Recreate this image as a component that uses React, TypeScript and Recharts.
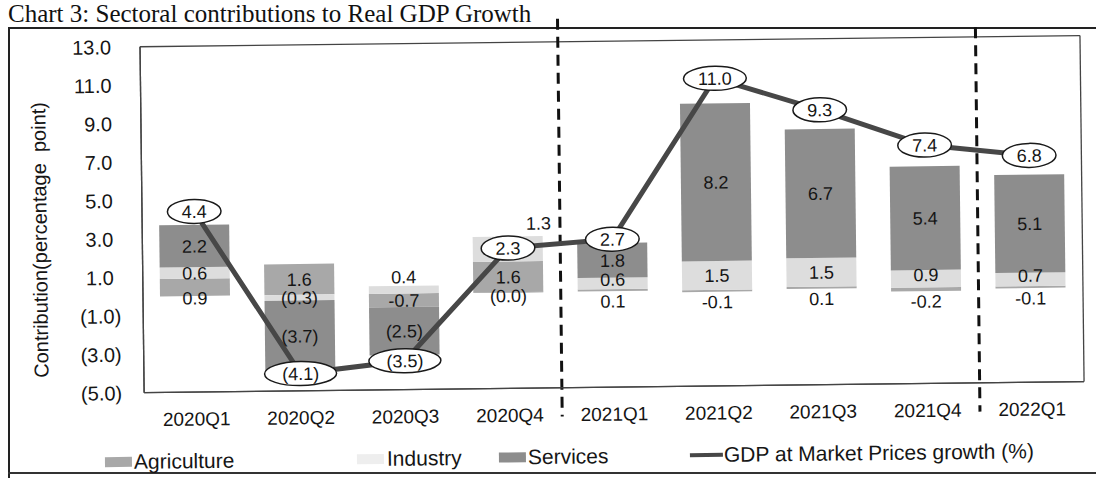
import React from 'react';
import { ComposedChart, Bar, Line, XAxis, YAxis, LabelList, ReferenceLine, CartesianGrid } from 'recharts';

const quarters = ['2020Q1', '2020Q2', '2020Q3', '2020Q4', '2021Q1', '2021Q2', '2021Q3', '2021Q4', '2022Q1'];
const agriculture = [0.9, 1.6, -0.7, 1.6, 0.1, -0.1, 0.1, -0.2, -0.1];
const industry = [0.6, -0.3, 0.4, 1.3, 0.6, 1.5, 1.5, 0.9, 0.7];
const services = [2.2, -3.7, -2.5, -0.02, 1.8, 8.2, 6.7, 5.4, 5.1];
const gdpGrowth = [4.4, -4.1, -3.5, 2.3, 2.7, 11.0, 9.3, 7.4, 6.8];
const yTicks = [13, 11, 9, 7, 5, 3, 1, -1, -3, -5];

const data = quarters.map((q, i) => ({
  q,
  agriculture: agriculture[i],
  industry: industry[i],
  services: services[i],
  gdp: gdpGrowth[i],
}));

const FONT = '"Liberation Sans", Arial, sans-serif';
const AGRI = '#a8a8a8';
const IND = '#dddddd';
const SERV = '#8d8d8d';
const GDP_LINE = '#474747';

// excel style: negatives in brackets (agriculture labels used a plain minus)
const paren = (v: number) => (v < 0 ? `(${Math.abs(v).toFixed(1)})` : v.toFixed(1));
const minus = (v: number) => v.toFixed(1);

const rectOf = (props: any) => {
  const vb = props.viewBox && props.viewBox.width !== undefined ? props.viewBox : props;
  return { x: Number(vb.x), y: Number(vb.y), width: Number(vb.width), height: Number(vb.height) };
};

const barLabel = (series: 'agriculture' | 'industry' | 'services') => (props: any) => {
  const { index } = props;
  const { x, y, width, height } = rectOf(props);
  const value = series === 'agriculture' ? agriculture[index] : series === 'industry' ? industry[index] : services[index];
  const top = Math.min(y, y + height);
  const bot = Math.max(y, y + height);
  const h = bot - top;
  let cx = x + width / 2;
  let cy = (top + bot) / 2;
  if (series === 'agriculture') {
    if (h < 12) cy = bot + 10;
    else if (h < 20 && value > 0) cy = bot + 2;
  }
  if (series === 'services' && h < 4) cy = bot + 3;
  if (series === 'industry' && value > 0) {
    if (h < 9) cy = top - 9;
    else if (Math.abs(agriculture[index]) < 0.5 && h < 20) cy -= 4;
    // pushed out of the way when it sits under the GDP bubble
    const base = agriculture[index] > 0 ? agriculture[index] : 0;
    if (Math.abs(base + value / 2 - gdpGrowth[index]) < 0.6) {
      cx = x + width - 4;
      cy = top - 13;
    }
  }
  return (
    <text x={cx} y={cy} dy="0.36em" textAnchor="middle" fontSize={18} fontFamily={FONT} fill="#151515">
      {series === 'agriculture' ? minus(value) : paren(value)}
    </text>
  );
};

const gdpLabel = (props: any) => {
  const vb = props.viewBox || props;
  const x = Number(vb.x ?? props.x);
  const y = Number(vb.y ?? props.y);
  const text = paren(gdpGrowth[props.index]);
  const rx = text.length * 4.6 + 13;
  return (
    <g>
      <ellipse cx={x} cy={y} rx={rx} ry={12} fill="#fff" stroke="#1a1a1a" strokeWidth={1.5} />
      <text x={x} y={y} dy="0.36em" textAnchor="middle" fontSize={18} fontFamily={FONT} fill="#151515">
        {text}
      </text>
    </g>
  );
};

const YTick = (props: any) => {
  const { x, y, payload } = props;
  const v = Number(payload.value);
  return (
    <text x={x} y={y} dx={v >= 0 ? -7 : 0} dy="0.36em" textAnchor="end" fontSize={20} fontFamily={FONT} fill="#151515">
      {paren(v)}
    </text>
  );
};

const legendItems = [
  { name: 'Agriculture', color: AGRI, left: 103, kind: 'box' },
  { name: 'Industry', color: '#eeeeee', left: 355, kind: 'box' },
  { name: 'Services', color: SERV, left: 497, kind: 'box' },
  { name: 'GDP at Market Prices growth (%)', color: GDP_LINE, left: 688, kind: 'line' },
];

const frameLine = { stroke: '#444', strokeWidth: 1.3 };
const breakLine = { stroke: '#111', strokeWidth: 3, strokeDasharray: '11 7' };

export default function App() {
  return (
    <div style={{ position: 'absolute', left: 0, top: 0, width: 1096, height: 478, background: '#fff', overflow: 'hidden' }}>
      {/* page box around the figure */}
      <div style={{ position: 'absolute', left: 8, top: 27, width: 2, height: 451, background: '#222' }} />
      <div style={{ position: 'absolute', left: 8, top: 27, width: 1088, height: 2, background: '#222' }} />
      <div style={{ position: 'absolute', left: 8, top: 472, width: 1088, height: 1.5, background: '#333' }} />

      <div style={{ position: 'absolute', left: 8, top: 0, fontFamily: '"Liberation Serif", "Times New Roman", serif', fontSize: 25, lineHeight: 'normal', color: '#111', whiteSpace: 'nowrap' }}>
        Chart 3: Sectoral contributions to Real GDP Growth
      </div>

      {/* the scanned chart sits slightly tilted on the page */}
      <div style={{ position: 'absolute', left: 0, top: 0, width: 1096, height: 478, transform: 'rotate(-0.68deg)', transformOrigin: '120px 297px' }}>
        <div style={{ position: 'absolute', left: 41, top: 239, transform: 'translate(-50%, -50%) rotate(-90deg)', fontFamily: FONT, fontSize: 20, color: '#151515', whiteSpace: 'pre' }}>
          {'Contribution(percentage  point)'}
        </div>

        <div style={{ position: 'absolute', left: 0, top: 0 }}>
          <ComposedChart width={1096} height={478} data={data} stackOffset="sign" barSize={70} margin={{ top: 47, right: 13, bottom: 55, left: 0 }}>
            {/* plot area border */}
            <CartesianGrid
              strokeDasharray=""
              stroke="#444"
              strokeWidth={1.3}
              horizontalCoordinatesGenerator={({ offset }: any) => [offset.top, offset.top + offset.height]}
              verticalCoordinatesGenerator={({ offset }: any) => [offset.left, offset.left + offset.width]}
            />
            <XAxis dataKey="q" height={30} tickLine={false} tickSize={0} tickMargin={20} axisLine={frameLine} tick={{ fontSize: 19, fill: '#151515', fontFamily: FONT }} interval={0} />
            <YAxis domain={[-5, 13]} ticks={yTicks} width={143} tickLine={false} tickSize={0} tickMargin={22} axisLine={frameLine} tick={<YTick />} interval={0} />

            <Bar dataKey="agriculture" stackId="s" fill={AGRI} isAnimationActive={false}>
              <LabelList dataKey="agriculture" content={barLabel('agriculture')} />
            </Bar>
            <Bar dataKey="industry" stackId="s" fill={IND} isAnimationActive={false}>
              <LabelList dataKey="industry" content={barLabel('industry')} />
            </Bar>
            <Bar dataKey="services" stackId="s" fill={SERV} isAnimationActive={false}>
              <LabelList dataKey="services" content={barLabel('services')} />
            </Bar>

            {/* period breaks sit on the left edge of the band */}
            <ReferenceLine segment={[{ x: '2021Q1', y: 14.2 }, { x: '2021Q1', y: -6.5 }]} position="start" ifOverflow="visible" {...breakLine} />
            <ReferenceLine segment={[{ x: '2022Q1', y: 13.5 }, { x: '2022Q1', y: -6.5 }]} position="start" ifOverflow="visible" {...breakLine} />

            <Line dataKey="gdp" stroke={GDP_LINE} strokeWidth={5} dot={false} isAnimationActive={false}>
              <LabelList dataKey="gdp" content={gdpLabel} />
            </Line>
          </ComposedChart>
        </div>

        {legendItems.map((it) => (
          <div key={it.name} style={{ position: 'absolute', left: it.left, top: 449, height: 26, display: 'flex', alignItems: 'center', fontFamily: FONT, fontSize: 21, color: '#151515', whiteSpace: 'nowrap' }}>
            {it.kind === 'box' ? (
              <span style={{ display: 'inline-block', width: 27, height: 10, background: it.color, marginRight: it.name === 'Industry' ? 3 : 2 }} />
            ) : (
              <span style={{ display: 'inline-block', width: 33, height: 4, background: it.color, marginRight: 1 }} />
            )}
            {it.name}
          </div>
        ))}
      </div>
    </div>
  );
}
